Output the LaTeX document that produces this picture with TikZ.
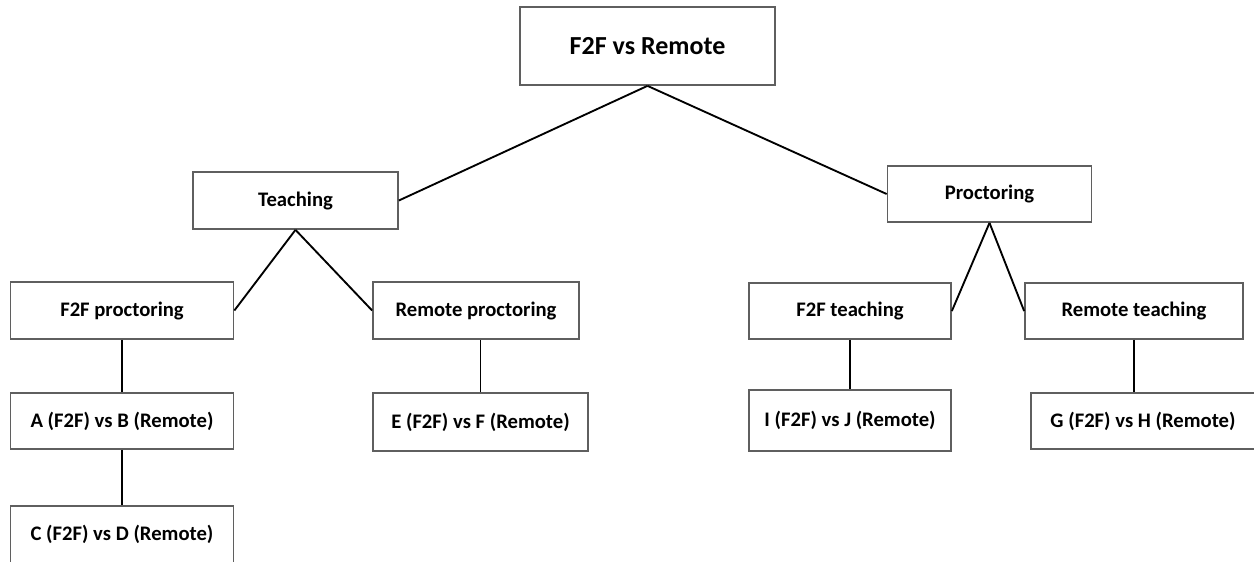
\documentclass[tikz,border=0pt]{standalone}
\usepackage{fontspec}
\setmainfont{Carlito}
\usepackage{tikz}

\definecolor{boxgray}{RGB}{95,95,95}

\begin{document}
\begin{tikzpicture}[x=0.75pt, y=-0.75pt,
    box/.style={draw=boxgray, line width=1.3pt, fill=white, inner sep=0pt,
        font=\bfseries\fontsize{15.5}{18}\selectfont},
    link/.style={draw=black, line width=1.4pt}]

\useasboundingbox (0,0) rectangle (1254,561);

% Root
\node[box, minimum width=191.25pt, minimum height=58.5pt,
    font=\bfseries\fontsize{19.5}{23}\selectfont] (root) at (647.5,46) {F2F vs Remote};

% First level
\node[box, minimum width=153.75pt, minimum height=42.75pt] (teach) at (295.5,200.5) {Teaching};
\node[box, minimum width=153pt, minimum height=42pt] (proc) at (989.5,194) {Proctoring};

% Second level
\node[box, minimum width=167.25pt, minimum height=42.75pt] (f2fp) at (122,310.5) {F2F proctoring};
\node[box, minimum width=154.5pt, minimum height=42.75pt] (remp) at (476,310.5) {Remote proctoring};
\node[box, minimum width=151.5pt, minimum height=42pt] (f2ft) at (850,311) {F2F teaching};
\node[box, minimum width=163.5pt, minimum height=42pt] (remt) at (1134,311) {Remote teaching};

% Comparisons
\node[box, minimum width=167.25pt, minimum height=42pt] (ab) at (122,421) {A (F2F) vs B (Remote)};
\node[box, minimum width=167.25pt, minimum height=42.75pt] (cd) at (122,534.5) {C (F2F) vs D (Remote)};
\node[box, minimum width=161.25pt, minimum height=43.5pt] (ef) at (480.5,422) {E (F2F) vs F (Remote)};
\node[box, minimum width=151.5pt, minimum height=45.75pt] (ij) at (850,420.5) {I (F2F) vs J (Remote)};
\node[box, minimum width=168pt, minimum height=42pt] (gh) at (1143,421) {G (F2F) vs H (Remote)};

% Links
\draw[link] (root.south) -- (teach.east);
\draw[link] (root.south) -- (proc.west);
\draw[link] (teach.south) -- (f2fp.east);
\draw[link] (teach.south) -- (remp.west);
\draw[link] (proc.south) -- (f2ft.east);
\draw[link] (proc.south) -- (remt.west);
\draw[link] (f2fp.south) -- (ab.north);
\draw[link] (ab.south) -- (cd.north);
\draw[link] (ef.north) -- (ef.north |- remp.south);
\draw[link] (f2ft.south) -- (ij.north);
\draw[link] (remt.south) -- (remt.south |- gh.north);

\end{tikzpicture}
\end{document}
